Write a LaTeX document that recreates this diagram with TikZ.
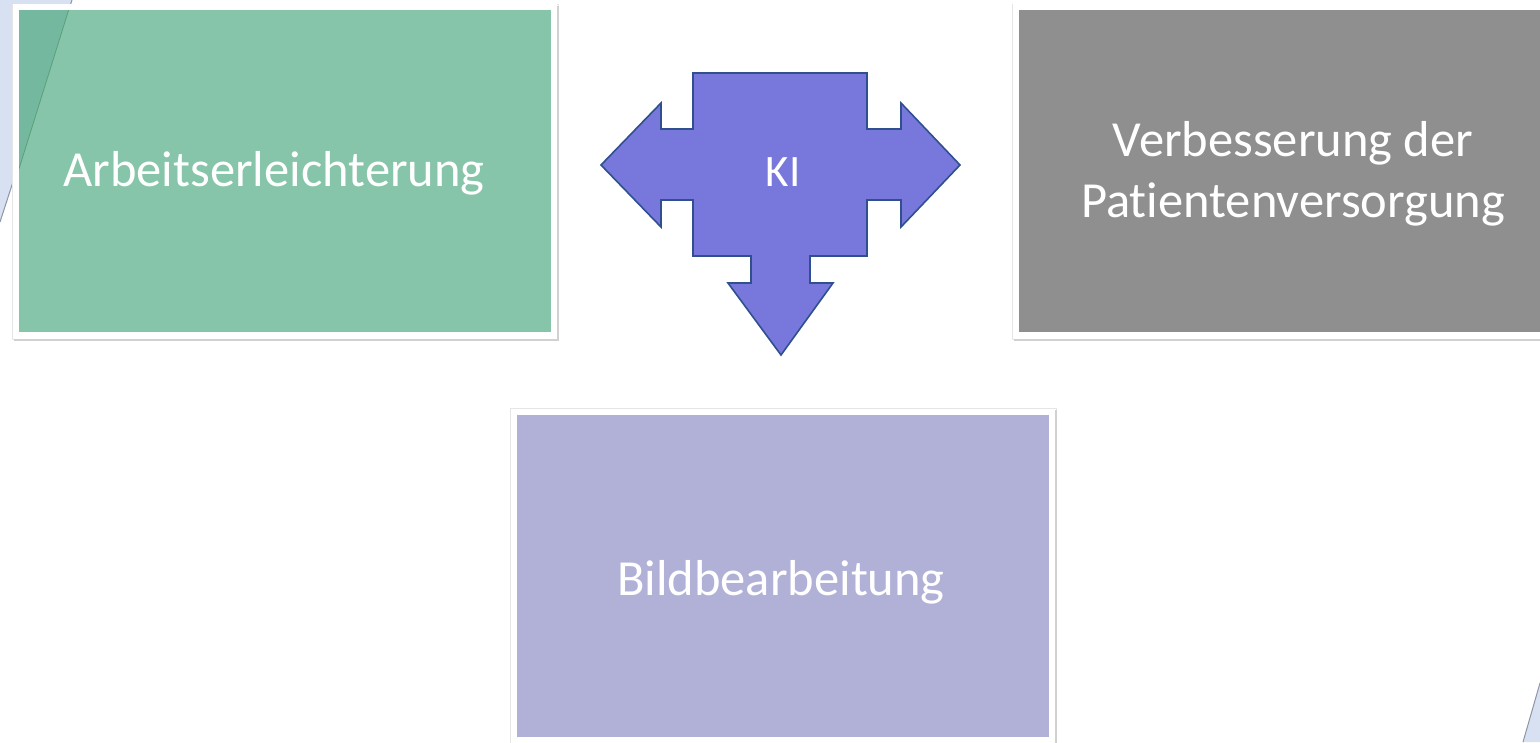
\documentclass[tikz,border=0pt]{standalone}
\usepackage{fontspec}
\setmainfont{Carlito}[Ligatures={NoCommon}]
\definecolor{boxgreen}{HTML}{86C5A9}
\definecolor{boxgreendark}{HTML}{74B89F}
\definecolor{boxgray}{HTML}{8F8F8F}
\definecolor{boxpurple}{HTML}{B1B1D8}
\definecolor{kifill}{HTML}{7878DC}
\definecolor{kiedge}{HTML}{2F4F8F}
\definecolor{bgblue}{HTML}{D8E1F1}
\definecolor{decoline}{HTML}{8C96A8}
\tikzset{
  framebox/.style={rectangle, draw=white, line width=6pt, inner sep=0pt,
    minimum width=538pt, minimum height=328pt},
  boxtext/.style={text=white, align=center, inner sep=0pt,
    font=\fontsize{50.5}{61}\selectfont},
  boxshadow/.style={draw=black!10, line width=1pt},
  boxshadowdark/.style={draw=black!18, line width=2pt},
  kishape/.style={fill=kifill, draw=kiedge, line width=1.6pt, line join=miter},
}
\begin{document}
\begin{tikzpicture}[x=1pt,y=-1pt]
\useasboundingbox (0,0) rectangle (1540,742);
\fill[white] (0,0) rectangle (1540,742);
% background decorations
\fill[bgblue] (0,0) -- (72,0) -- (0,222) -- cycle;
\draw[decoline, line width=1pt] (72,0) -- (0,222);
\fill[bgblue] (1540,683) -- (1540,742) -- (1523,742) -- cycle;
\draw[decoline, line width=1pt] (1540,683) -- (1523,742);
% shadows
\draw[boxshadow] (12,4) rectangle (558,339);
\draw[boxshadowdark] (14,340) -- (558,340) -- (558,6);
\draw[boxshadow] (1012,4) rectangle (1560,339);
\draw[boxshadowdark] (1014,340) -- (1560,340);
\draw[boxshadow] (510,408) rectangle (1056,760);
\draw[boxshadowdark] (1056,410) -- (1056,760);
% boxes
\node[framebox, fill=boxgreen] (arb) at (285,171) {};
\begin{scope}
\clip (19,10) rectangle (551,332);
\fill[boxgreendark] (19,10) -- (68.7,10) -- (19,169) -- cycle;
\draw[green!30!black, opacity=0.25, line width=0.8pt] (68.7,10) -- (19,169);
\end{scope}
\node[boxtext] (arbt) at (274,173) {Arbeitserleichterung};
\node[framebox, fill=boxgray, minimum width=554pt] (verb) at (1293,171) {};
\node[boxtext] (verbt) at (1293,174) {Verbesserung der\\Patientenversorgung};
\node[framebox, fill=boxpurple] (bild) at (783,576) {};
\node[boxtext] (bildt) at (781,582) {Bildbearbeitung};
% KI arrow shape
\draw[kishape] (693,73) -- (867,73) -- (867,129) -- (901,129) -- (901,103) -- (960,165)
  -- (901,227) -- (901,200) -- (867,200) -- (867,256) -- (810,256) -- (810,283)
  -- (833,283) -- (781,355) -- (728,283) -- (751,283) -- (751,256) -- (693,256)
  -- (693,200) -- (661,200) -- (661,227) -- (601,165) -- (661,103) -- (661,129)
  -- (693,129) -- cycle;
\node[text=white, inner sep=0pt, font=\fontsize{45}{54}\selectfont] (ki) at (783,172) {KI};
\end{tikzpicture}
\end{document}
